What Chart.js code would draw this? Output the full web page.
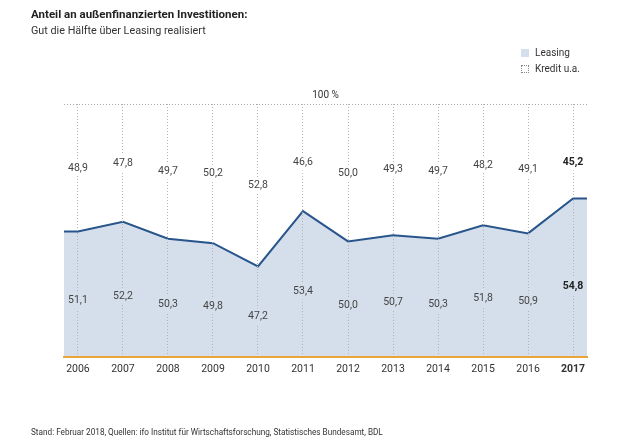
<!DOCTYPE html>
<html><head><meta charset="utf-8">
<script src="https://cdn.jsdelivr.net/npm/chart.js@4/dist/chart.umd.min.js"></script>
<style>
body{margin:0;background:#fff;}
#wrap{position:relative;width:620px;height:444px;font-family:Roboto,sans-serif;color:#333;overflow:hidden;}
canvas{position:absolute;left:0;top:0;}
.t{position:absolute;white-space:nowrap;line-height:1;}
#title{left:31px;top:9px;font-size:11.5px;font-weight:bold;color:#222;}
#sub{left:31px;top:26px;font-size:10.8px;color:#333;}
#foot{left:31px;top:428px;font-size:8.2px;color:#333;}
.leg{position:absolute;left:521px;font-size:10px;color:#333;white-space:nowrap;line-height:1;}
.sw{display:inline-block;width:8px;height:8px;vertical-align:-1px;margin-right:6px;box-sizing:border-box;}
</style></head>
<body>
<div id="wrap">
<canvas id="c" width="620" height="444"></canvas>
<div class="t" id="title">Anteil an außenfinanzierten Investitionen:</div>
<div class="t" id="sub">Gut die Hälfte über Leasing realisiert</div>
<div class="leg" style="top:48px"><span class="sw" style="background:#d5dfeb"></span>Leasing</div>
<div class="leg" style="top:64px"><span class="sw" style="border:1px dotted #888"></span>Kredit u.a.</div>
<div class="t" id="foot">Stand: Februar 2018, Quellen: ifo Institut für Wirtschaftsforschung, Statistisches Bundesamt, BDL</div>
</div>
<script>
const years = [2006, 2007, 2008, 2009, 2010, 2011, 2012, 2013, 2014, 2015, 2016, 2017];
const leasing = [51.1, 52.2, 50.3, 49.8, 47.2, 53.4, 50.0, 50.7, 50.3, 51.8, 50.9, 54.8];
const kredit = [48.9, 47.8, 49.7, 50.2, 52.8, 46.6, 50.0, 49.3, 49.7, 48.2, 49.1, 45.2];
const topLabel = '100 %';

const FILL = '#d5dfeb';
const LINE = '#28558b';
const xMin = 2005.69, xMax = 2017.31;

const pts = years.map((yr, i) => ({x: yr, y: leasing[i]}));
const areaData = [{x: xMin, y: leasing[0]}, ...pts, {x: xMax, y: leasing[leasing.length - 1]}];

const fmt = v => v.toFixed(1).replace('.', ',');

const overlay = {
  id: 'overlay',
  afterDraw(chart) {
    const {ctx, chartArea: a, scales: {x, y}} = chart;
    ctx.save();
    const yt = Math.round(y.getPixelForValue(y.max)) + 0.5;
    ctx.strokeStyle = '#aaa';
    ctx.lineWidth = 1;
    ctx.setLineDash([1, 2]);
    ctx.beginPath(); ctx.moveTo(a.left, yt); ctx.lineTo(a.right, yt); ctx.stroke();
    ctx.setLineDash([]);
    ctx.textAlign = 'center';
    ctx.textBaseline = 'middle';
    ctx.fillStyle = '#333';
    ctx.font = '10px Roboto';
    ctx.fillText(topLabel, (a.left + a.right) / 2, yt - 9);
    const drawLabel = (txt, px, py, bg, bold) => {
      ctx.font = (bold ? 'bold ' : '') + '10.5px Roboto';
      const w = ctx.measureText(txt).width;
      ctx.fillStyle = bg;
      ctx.fillRect(px - w / 2 - 2, py - 8, w + 4, 16);
      ctx.fillStyle = bold ? '#222' : '#444';
      ctx.fillText(txt, px, py);
    };
    years.forEach((yr, i) => {
      const px = x.getPixelForValue(yr);
      const py = y.getPixelForValue(leasing[i]);
      const bold = i === years.length - 1;
      const yTop = Math.max((yt + py) / 2, yt + 58);
      const yBot = py + 0.55 * (a.bottom - py);
      drawLabel(fmt(kredit[i]), px, yTop, '#fff', bold);
      drawLabel(fmt(leasing[i]), px, yBot, FILL, bold);
    });
    ctx.restore();
  }
};

new Chart(document.getElementById('c'), {
  type: 'line',
  data: {
    datasets: [{
      label: 'Leasing',
      data: areaData,
      borderColor: LINE,
      borderWidth: 2,
      backgroundColor: FILL,
      fill: 'start',
      pointRadius: 0,
      tension: 0
    }]
  },
  options: {
    responsive: false,
    animation: false,
    devicePixelRatio: 1,
    layout: {padding: {left: 64, right: 33, top: 104, bottom: 62}},
    plugins: {legend: {display: false}, tooltip: {enabled: false}, title: {display: false}},
    scales: {
      x: {
        type: 'linear',
        min: xMin,
        max: xMax,
        afterBuildTicks: s => { s.ticks = years.map(v => ({value: v})); },
        ticks: {
          padding: 6,
          color: '#333',
          font: c => ({family: 'Roboto', size: 10.5, weight: c.tick && c.tick.value === 2017 ? 'bold' : 'normal'}),
          callback: v => String(v)
        },
        grid: {display: true, drawTicks: false, color: '#b4b4b4', lineWidth: 1, z: 1},
        border: {display: true, color: '#e8a53a', width: 2, dash: [1, 2], z: 2}
      },
      y: {display: false, min: 37, max: 65.4}
    }
  },
  plugins: [overlay]
});
</script>
</body></html>
